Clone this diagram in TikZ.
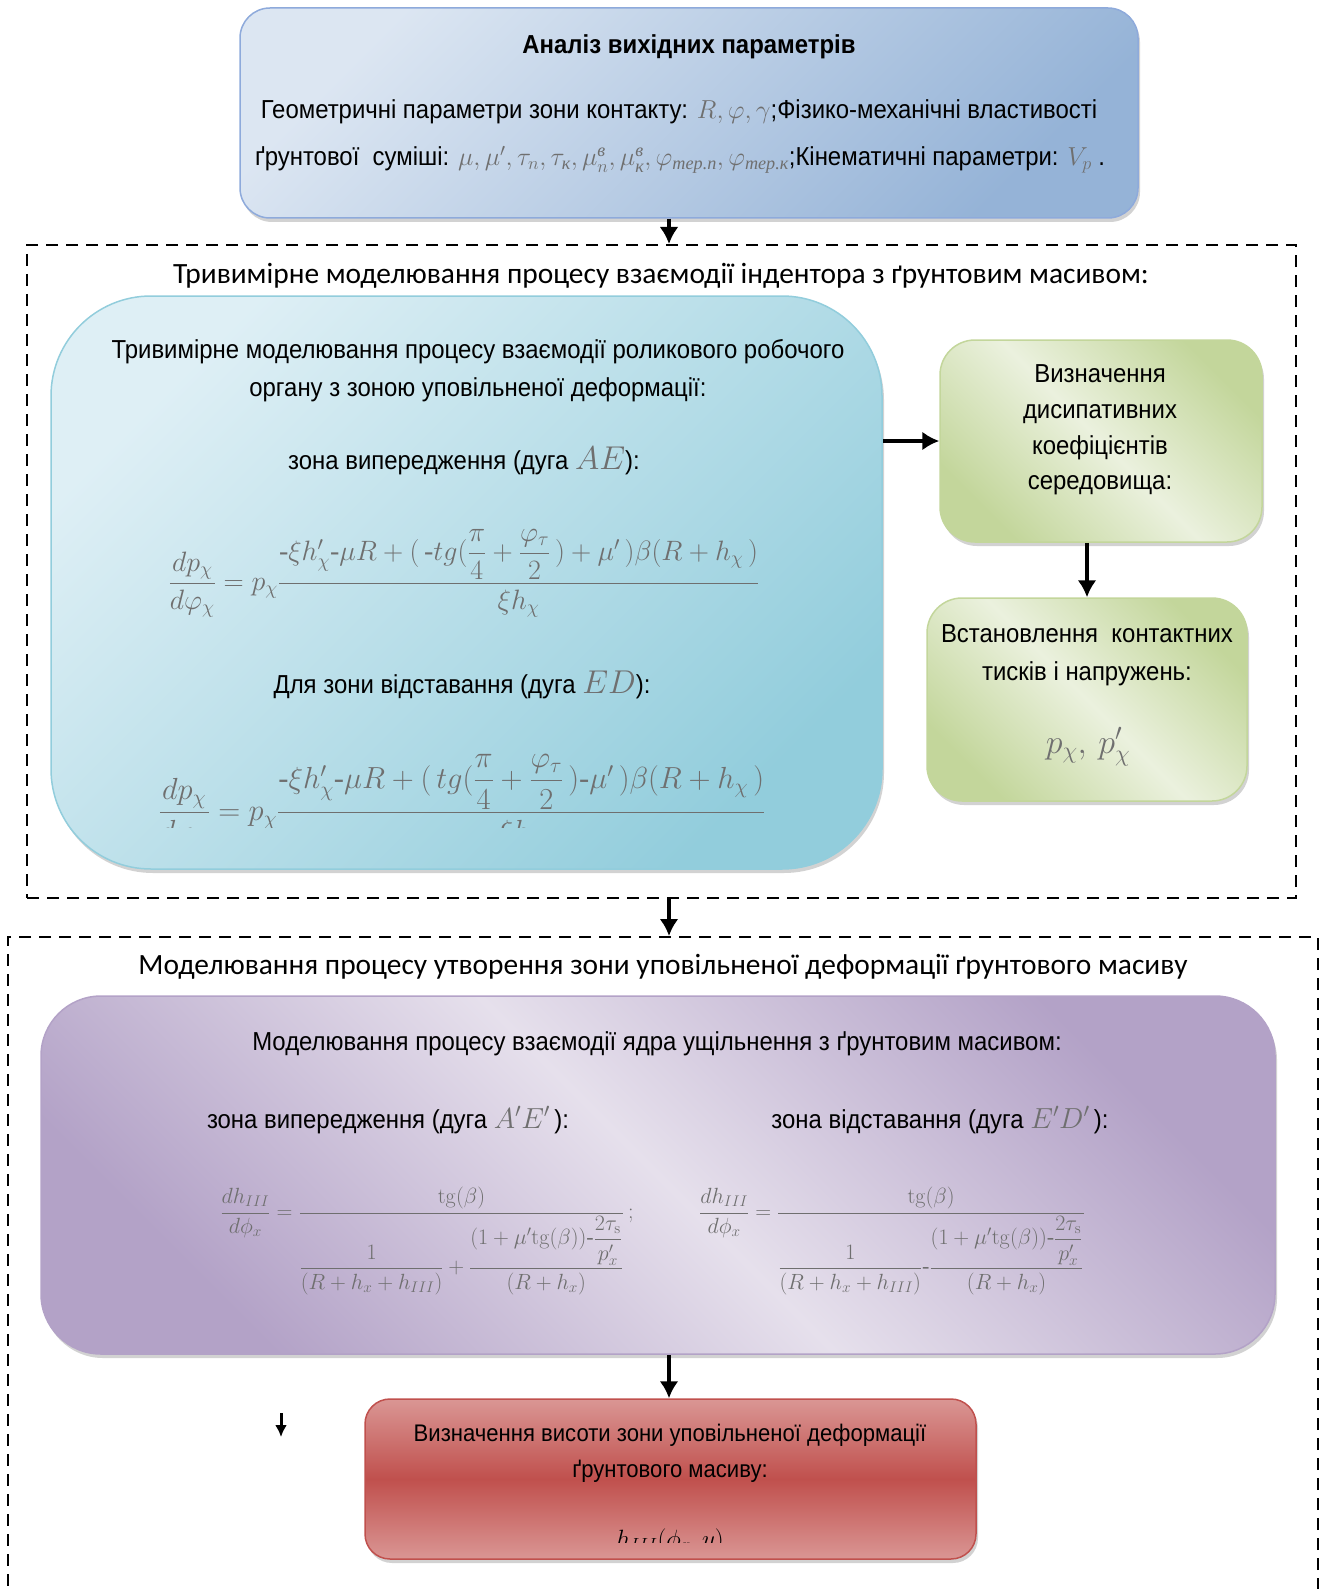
\RequirePackage{fix-cm}
\documentclass[tikz,border=0pt]{standalone}
\usepackage{amsmath}
\usepackage[no-math]{fontspec}
\setmainfont{Liberation Sans}[FakeStretch=0.92]
\newfontfamily\calibri{Carlito}
\newfontfamily\timesfont{Liberation Serif}
\usetikzlibrary{arrows.meta,shadows,positioning,calc}

\definecolor{anaLight}{HTML}{DCE6F2}
\definecolor{anaDark}{HTML}{95B3D7}
\definecolor{anaLine}{HTML}{8EAADB}
\definecolor{aquaLight}{HTML}{DEEFF5}
\definecolor{aquaDark}{HTML}{92CDDC}
\definecolor{greenLight}{HTML}{EBF1DE}
\definecolor{greenDark}{HTML}{C3D69B}
\definecolor{lilacLight}{HTML}{E6E0EC}
\definecolor{lilacDark}{HTML}{B3A2C7}
\definecolor{redLight}{HTML}{DA9694}
\definecolor{redDark}{HTML}{C0504D}
\definecolor{mathgray}{HTML}{6F6F6F}

\newcommand{\cyrsub}[1]{\text{\timesfont\itshape #1}}
\newcommand{\hy}{\mathord{\text{\timesfont -}}}

\begin{document}
\begin{tikzpicture}[x=1pt, y=-1pt, >={Latex[length=17pt,width=19pt]},
txt/.style = {font=\fontsize{26}{38}\selectfont, align=center, inner sep=0pt},
ttl/.style = {font=\calibri\fontsize{29.4}{32}\selectfont, inner sep=0pt},
frm/.style = {draw, dash pattern=on 12pt off 8pt, line width=2pt, inner sep=0pt},
box/.style = {line width=1.5pt, inner sep=0pt, drop shadow={shadow xshift=2pt, shadow yshift=-4pt, fill=black!35}},
eqn/.style = {text=mathgray, inner sep=0pt, anchor=base},
arr/.style = {->, line width=4pt},
                    ]
    \useasboundingbox (0,0) rectangle (1327,1589);
    \clip (0,0) rectangle (1327,1589);
    \coordinate (axis) at (669,0);
    % dashed frames
    \node [frm, minimum width=1269pt, minimum height=653pt] (frameA) at (661.5,571.5) {};
    \node [frm, minimum width=1310pt, minimum height=683pt] (frameB) at (663,1278.5) {};
    \node [ttl] (frameAT) at (661,276) {Тривимірне моделювання процесу взаємодії індентора з ґрунтовим масивом:};
    \node [ttl] (frameBT) at (663,967) {Моделювання процесу утворення зони уповільненої деформації ґрунтового масиву};
    % input parameters
    \node [box, draw=anaLine, rounded corners=30pt, top color=anaLight, bottom color=anaDark, shading angle=45,
           minimum width=898pt, minimum height=210pt] (analysis) at (689,113) {};
    \node [txt, font=\bfseries\fontsize{26}{38}\selectfont] (analysisT) at (689,47) {Аналіз вихідних параметрів};
    \node [txt] (geom) at (679,112) {Геометричні параметри зони контакту: \textcolor{mathgray}{$R,\varphi,\gamma$};Фізико-механічні властивості};
    \node [txt] (soil) at (680,160) {ґрунтової\ \ суміші: \textcolor{mathgray}{$\mu,\mu',\tau_n,\tau_{\cyrsub{к}},\mu_n^{\cyrsub{в}},\mu_{\cyrsub{к}}^{\cyrsub{в}},\varphi_{\cyrsub{тер.п}},\varphi_{\cyrsub{тер.к}}$};Кінематичні параметри: \textcolor{mathgray}{$V_p$} .};
    % roller model
    \node [box, draw=aquaDark, rounded corners=100pt, top color=aquaLight, bottom color=aquaDark, shading angle=45,
           minimum width=831pt, minimum height=573pt] (roller) at (466.5,582.5) {};
    \node [txt] (rollerT) at (478,371) {Тривимірне моделювання процесу взаємодії роликового робочого\\органу з зоною уповільненої деформації:};
    \node [txt] (leadAE) at (464,461) {зона випередження (дуга \textcolor{mathgray}{\fontsize{33}{33}\selectfont$AE$}):};
    \node [eqn, font=\fontsize{28}{32}\selectfont] (eqAE) at (464,590)
        {$\displaystyle \frac{dp_\chi}{d\varphi_\chi}=p_\chi\frac{\hy\xi h'_\chi\hy\mu R+(\,\hy tg(\dfrac{\pi}{4}+\dfrac{\varphi_\tau}{2}\,)+\mu'\,)\beta(R+h_\chi\,)}{\xi h_\chi}$};
    \node [txt] (lagED) at (462,685) {Для зони відставання (дуга \textcolor{mathgray}{\fontsize{33}{33}\selectfont$ED$}):};
    \begin{scope}
      \clip (60,700) rectangle (870,827);
      \node [eqn, font=\fontsize{30.5}{34}\selectfont] (eqED) at (462,820.5)
          {$\displaystyle \frac{dp_\chi}{d\varphi_\chi}=p_\chi\frac{\hy\xi h'_\chi\hy\mu R+(\,tg(\dfrac{\pi}{4}+\dfrac{\varphi_\tau}{2}\,)\hy\mu'\,)\beta(R+h_\chi\,)}{\xi h_\chi}$};
    \end{scope}
    % dissipative coefficients and contact pressures
    \node [box, draw=greenDark, rounded corners=35pt, top color=greenDark, bottom color=greenDark, middle color=greenLight, shading angle=-45,
           minimum width=322pt, minimum height=202pt] (dissip) at (1101,441) {};
    \node [txt, font=\fontsize{26}{35.5}\selectfont] (dissipT) at (1100,430) {Визначення\\дисипативних\\коефіцієнтів\\середовища:};
    \node [box, draw=greenDark, rounded corners=35pt, top color=greenDark, bottom color=greenDark, middle color=greenLight, shading angle=-45,
           minimum width=320pt, minimum height=203pt] (press) at (1087,699.5) {};
    \node [txt] (pressT) at (1087,655) {Встановлення\ \ контактних\\тисків і напружень:};
    \node [eqn, font=\fontsize{34}{36}\selectfont] (pressEq) at (1088,753) {$p_\chi,\,p'_\chi$};
    % core of compaction
    \node [box, draw=lilacDark, rounded corners=60pt, top color=lilacDark, bottom color=lilacDark, middle color=lilacLight, shading angle=-45,
           minimum width=1234pt, minimum height=358pt] (core) at (658,1175) {};
    \node [txt] (coreT) at (657,1044) {Моделювання процесу взаємодії ядра ущільнення з ґрунтовим масивом:};
    \node [txt] (leadAE2) at (388,1120) {зона випередження (дуга \textcolor{mathgray}{\fontsize{29}{29}\selectfont$A'E'$}\,):};
    \node [txt] (lagED2) at (940,1120) {зона відставання (дуга \textcolor{mathgray}{\fontsize{29}{29}\selectfont$E'D'$}\,):};
    \node [eqn, font=\fontsize{22}{24}\selectfont] (eqCore1) at (427,1218.5)
        {$\displaystyle \frac{dh_{III}}{d\phi_x}=\frac{\mathrm{tg}(\beta)}{\dfrac{1}{(R+h_x+h_{III})}+\dfrac{(1+\mu'\mathrm{tg}(\beta))\hy\dfrac{2\tau_{\mathrm{s}}}{p'_x}}{(R+h_x)}}\,;$};
    \node [eqn, font=\fontsize{22}{24}\selectfont] (eqCore2) at (892,1218.5)
        {$\displaystyle \frac{dh_{III}}{d\phi_x}=\frac{\mathrm{tg}(\beta)}{\dfrac{1}{(R+h_x+h_{III})}\hy\dfrac{(1+\mu'\mathrm{tg}(\beta))\hy\dfrac{2\tau_{\mathrm{s}}}{p'_x}}{(R+h_x)}}$};
    % height of the zone
    \node [box, draw=redDark, rounded corners=25pt, top color=redLight, bottom color=redLight, middle color=redDark,
           minimum width=611pt, minimum height=160pt] (height) at (670.5,1479) {};
    \node [txt, font=\fontsize{24}{36}\selectfont] (heightT) at (670,1453) {Визначення висоти зони уповільненої деформації\\ґрунтового масиву:};
    \begin{scope}
      \clip (400,1500) rectangle (940,1542);
      \node [inner sep=0pt, anchor=base, font=\fontsize{25}{27}\selectfont] (heightEq) at (670,1547) {$h_{III}(\phi_x,y)$};
    \end{scope}
    \coordinate (stubA) at (281,1413);
    \coordinate (stubB) at (281,1437);
    % connectors
    \draw[arr] (analysis.south -| axis) -- (frameA.north -| axis);
    \draw[arr] (roller.east |- dissip.west) -- (dissip.west);
    \draw[arr] (dissip.south -| press.north) -- (press.north);
    \draw[arr] (frameA.south -| axis) -- (frameB.north -| axis);
    \draw[arr] (core.south -| axis) -- (height.north -| axis);
    \draw[->, line width=3pt, >={Latex[length=12pt,width=12pt]}] (stubA) -- (stubB);
\end{tikzpicture}
\end{document}
